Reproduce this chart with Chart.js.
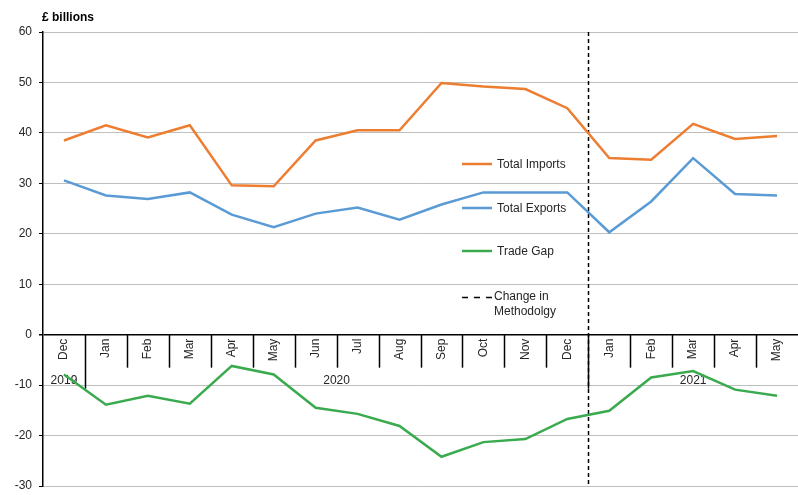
<!DOCTYPE html>
<html><head><meta charset="utf-8">
<script src="https://cdn.jsdelivr.net/npm/chart.js@4"></script>
<style>html,body{margin:0;padding:0;background:#fff}#wrap{width:798px;height:495px;position:relative}</style>
</head><body><div id="wrap"><canvas id="c"></canvas></div>
<script>
const categories = ['Dec','Jan','Feb','Mar','Apr','May','Jun','Jul','Aug','Sep','Oct','Nov','Dec','Jan','Feb','Mar','Apr','May'];
const totalImports = [38.5,41.5,39.1,41.5,29.6,29.4,38.5,40.5,40.5,49.9,49.2,48.7,44.9,35.0,34.7,41.8,38.8,39.4];
const totalExports = [30.6,27.6,26.9,28.2,23.8,21.3,24.0,25.2,22.8,25.8,28.2,28.2,28.2,20.3,26.4,35.0,27.9,27.6];
const tradeGap = [-7.9,-13.9,-12.1,-13.7,-6.2,-7.9,-14.5,-15.7,-18.1,-24.2,-21.3,-20.7,-16.7,-15.1,-8.5,-7.2,-10.9,-12.1];
const yMin = -30, yMax = 60, yStep = 10;
const yearLabels = ['2019','2020','2021'];
const yearStartIndex = [0,1,13];
const methodologyChangeAfterIndex = 12;
const unitLabel = '£ billions';
const methodologyLabel = ['Change in','Methodolgy'];

const FONT = '"Liberation Sans", Arial, sans-serif';
const TEXT = '#262626';

const overlay = {
  id: 'overlay',
  beforeDatasetsDraw(chart) {
    const {ctx, scales: {x, y}} = chart;
    const y0 = y.getPixelForValue(0);
    const half = (x.getPixelForValue(1) - x.getPixelForValue(0)) / 2;
    ctx.save();
    ctx.strokeStyle = '#000';
    ctx.lineWidth = 1.5;
    for (let i = 1; i < categories.length; i++) {
      const bx = Math.round(x.getPixelForValue(i) - half) + 0.5;
      const isYear = yearStartIndex.includes(i);
      ctx.beginPath();
      ctx.moveTo(bx, y0);
      ctx.lineTo(bx, y0 + (isYear ? 54 : 33));
      ctx.stroke();
    }
    ctx.fillStyle = TEXT;
    ctx.font = '12px ' + FONT;
    categories.forEach((c, i) => {
      const px = x.getPixelForValue(i);
      ctx.save();
      ctx.translate(px, y0 + 4);
      ctx.rotate(-Math.PI / 2);
      ctx.textAlign = 'right';
      ctx.textBaseline = 'middle';
      ctx.fillText(c, 0, 0);
      ctx.restore();
    });
    yearLabels.forEach((yl, k) => {
      const s = yearStartIndex[k];
      const e = k + 1 < yearStartIndex.length ? yearStartIndex[k + 1] - 1 : categories.length - 1;
      const cx = (x.getPixelForValue(s) + x.getPixelForValue(e)) / 2;
      ctx.textAlign = 'center';
      ctx.textBaseline = 'middle';
      ctx.fillText(yl, cx, y0 + 46);
    });
    const mx = Math.round((x.getPixelForValue(methodologyChangeAfterIndex) + x.getPixelForValue(methodologyChangeAfterIndex + 1)) / 2) + 0.5;
    ctx.setLineDash([4, 3]);
    ctx.beginPath();
    ctx.moveTo(mx, chart.chartArea.top);
    ctx.lineTo(mx, chart.chartArea.bottom);
    ctx.stroke();
    ctx.restore();
  },
  afterDraw(chart) {
    const {ctx} = chart;
    ctx.save();
    ctx.fillStyle = '#000';
    ctx.font = 'bold 12px ' + FONT;
    ctx.textAlign = 'left';
    ctx.textBaseline = 'alphabetic';
    ctx.fillText(unitLabel, 42, 21);
    ctx.font = '12px ' + FONT;
    ctx.textBaseline = 'middle';
    const ys = [164, 208, 251];
    chart.data.datasets.forEach((ds, i) => {
      ctx.strokeStyle = ds.borderColor;
      ctx.lineWidth = 2.5;
      ctx.beginPath();
      ctx.moveTo(462, ys[i]);
      ctx.lineTo(492, ys[i]);
      ctx.stroke();
      ctx.fillStyle = TEXT;
      ctx.fillText(ds.label, 497, ys[i] + 0.5);
    });
    ctx.strokeStyle = '#000';
    ctx.lineWidth = 1.5;
    ctx.setLineDash([6, 6]);
    ctx.beginPath();
    ctx.moveTo(462, 297.5);
    ctx.lineTo(492, 297.5);
    ctx.stroke();
    ctx.setLineDash([]);
    ctx.fillStyle = TEXT;
    ctx.fillText(methodologyLabel[0], 494, 297);
    ctx.fillText(methodologyLabel[1], 494, 312);
    ctx.restore();
  }
};

new Chart(document.getElementById('c'), {
  type: 'line',
  data: {
    labels: categories,
    datasets: [
      {label: 'Total Imports', data: totalImports, borderColor: '#ED7D31', borderWidth: 2.5, pointRadius: 0, tension: 0},
      {label: 'Total Exports', data: totalExports, borderColor: '#5B9BD5', borderWidth: 2.5, pointRadius: 0, tension: 0},
      {label: 'Trade Gap', data: tradeGap, borderColor: '#3AAA4F', borderWidth: 2.5, pointRadius: 0, tension: 0}
    ]
  },
  options: {
    responsive: true,
    maintainAspectRatio: false,
    animation: false,
    layout: {padding: {top: 32, bottom: 9, left: 0, right: 0}},
    plugins: {legend: {display: false}, tooltip: {enabled: false}},
    scales: {
      x: {display: false, offset: true},
      y: {
        min: yMin, max: yMax,
        ticks: {stepSize: yStep, color: TEXT, font: {family: FONT, size: 12}, padding: 7},
        grid: {
          color: (c) => c.tick && c.tick.value === 0 ? '#000' : '#BFBFBF',
          lineWidth: (c) => c.tick && c.tick.value === 0 ? 1.5 : 1,
          tickColor: '#000',
          tickLength: 4
        },
        border: {color: '#000', width: 1.5},
        afterFit: (s) => { s.width = 43; s.paddingTop = 0; s.paddingBottom = 0; }
      }
    }
  },
  plugins: [overlay]
});
</script>
</body></html>
